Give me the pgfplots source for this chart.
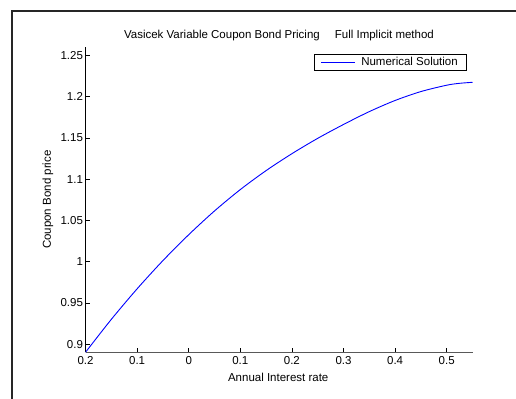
\documentclass[border=0pt]{standalone}
\usepackage{pgfplots}
\pgfplotsset{compat=1.18}
\usepackage{fontspec}
\setmainfont{Liberation Sans}
\begin{document}
\begin{tikzpicture}
\useasboundingbox (-85.5bp,-46.7bp) rectangle (430.5bp,352.3bp);
\fill[white] (-85.5bp,-46.7bp) rectangle (430.5bp,352.3bp);
\draw[line width=1.2bp, black!85] (-73.5bp,-47bp) -- (-73.5bp,341.3bp) -- (431bp,341.3bp);
\begin{axis}[
  at={(0,0)}, anchor=south west,
  scale only axis, width=387bp, height=305.3bp,
  xmin=-0.2, xmax=0.55, ymin=0.8903, ymax=1.2603,
  font=\fontsize{11.5bp}{13bp}\selectfont,
  axis x line*=bottom, axis y line*=left,
  x axis line style={draw=black!65, line width=1.2bp, -},
  y axis line style={draw=black, line width=0.8bp, -},
  xtick={-0.2,-0.1,0,0.1,0.2,0.3,0.4,0.5},
  xticklabels={0.2,0.1,0,0.1,0.2,0.3,0.4,0.5},
  ytick={0.9,0.95,1,1.05,1.1,1.15,1.2,1.25},
  yticklabels={0.9,0.95,1,1.05,1.1,1.15,1.2,1.25},
  tick align=inside, major tick length=4bp,
  tick style={black, line width=0.6bp},
  xticklabel style={yshift=-1bp},
  yticklabel style={xshift=1bp},
  title={Vasicek Variable Coupon Bond Pricing\hspace{15bp}Full Implicit method},
  every axis title/.style={at={(axis description cs:0.5,1)}, anchor=center, yshift=11bp},
  xlabel={Annual Interest rate},
  every axis x label/.style={at={(axis description cs:0.498,-0.083)}, anchor=center},
  ylabel={Coupon Bond price},
  every axis y label/.style={at={(axis description cs:-0.097,0.5)}, anchor=center, rotate=90},
  legend style={at={(axis description cs:0.985,0.977)}, anchor=north east,
    draw=black, line width=0.8bp, inner xsep=6.5bp, inner ysep=1bp,
    font=\fontsize{11.5bp}{13bp}\selectfont},
  legend image code/.code={\draw[#1, line width=0.8bp] (0bp,0bp) -- (34bp,0bp); \path (37.5bp,0bp);},
]
\addplot[draw=blue, line width=0.9bp, smooth] coordinates {
(-0.2,0.8903) (-0.15,0.9302) (-0.1,0.9672) (-0.05,1.0014) (0,1.0328)
(0.05,1.0616) (0.1,1.0875) (0.15,1.1105) (0.2,1.1310) (0.25,1.1496)
(0.3,1.1664) (0.35,1.1820) (0.4,1.1955) (0.45,1.2063) (0.5,1.2140)
(0.525,1.2163) (0.55,1.2175)
};
\addlegendentry{Numerical Solution}
\end{axis}
\end{tikzpicture}
\end{document}
